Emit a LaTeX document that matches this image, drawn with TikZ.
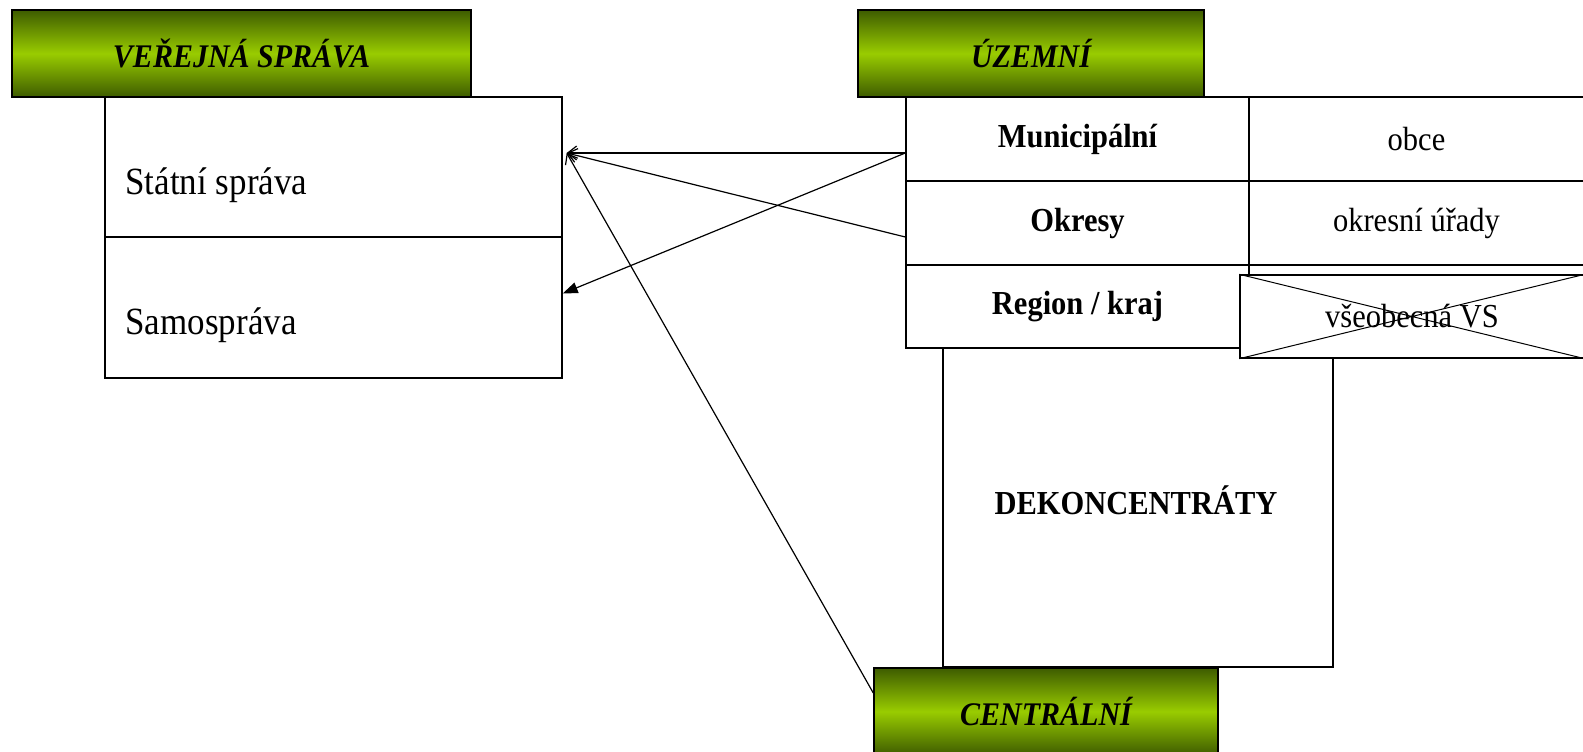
\documentclass[tikz,border=0pt]{standalone}
\usepackage{fontspec}
\setmainfont{Liberation Serif}
\usetikzlibrary{arrows.meta}
\definecolor{hdark}{RGB}{62,92,0}
\definecolor{hlight}{RGB}{153,204,0}
\newcommand{\tallt}[1]{\scalebox{1}[1.1]{#1}}
\tikzset{
  cell/.style={draw, line width=1.4pt, inner sep=0pt, fill=white, font=\fontsize{30.5}{36}\selectfont},
  boldcell/.style={cell, font=\fontsize{30.5}{36}\selectfont\bfseries},
  header/.style={draw, line width=1.4pt, inner sep=0pt, top color=hdark, bottom color=hdark, middle color=hlight, font=\fontsize{30}{36}\selectfont\bfseries\itshape},
  bigtext/.style={anchor=base west, inner sep=0pt, font=\fontsize{35}{42}\selectfont},
  link/.style={line width=1.2pt, -{Straight Barb[length=9pt,width=14pt]}},
  filledlink/.style={line width=1.2pt, -{Triangle[length=15pt,width=11pt]}}
}
\begin{document}
\begin{tikzpicture}[x=1pt,y=-1pt]
    \useasboundingbox (0,0) rectangle (1583,752);
    %Left side
    \node[header, minimum width=459pt, minimum height=87pt] (verejna) at (241.5,53.5) {\tallt{VEŘEJNÁ SPRÁVA}};
    \node[cell, minimum width=457pt, minimum height=140pt] (statni) at (333.5,167) {};
    \node[cell, minimum width=457pt, minimum height=141pt] (samo) at (333.5,307.5) {};
    \node[bigtext] (statnitxt) at ([xshift=21pt,yshift=-27pt]statni.west) {\tallt{Státní správa}};
    \node[bigtext] (samotxt) at ([xshift=21pt,yshift=-27pt]samo.west) {\tallt{Samospráva}};
    %Right side
    \node[header, minimum width=346pt, minimum height=87pt] (uzemni) at (1031,53.5) {\tallt{ÚZEMNÍ}};
    \node[cell, minimum width=390pt, minimum height=319pt] (dek) at (1138,507.5) {};
    \node[boldcell, minimum width=343pt, minimum height=84pt] (muni) at (1077.5,139) {\tallt{Municipální}};
    \node[cell, minimum width=335pt, minimum height=84pt] (obce) at (1416.5,139) {\tallt{obce}};
    \node[boldcell, minimum width=343pt, minimum height=84pt] (okresy) at (1077.5,223) {\tallt{Okresy}};
    \node[cell, minimum width=335pt, minimum height=84pt] (urady) at (1416.5,223) {\tallt{okresní úřady}};
    \node[boldcell, minimum width=343pt, minimum height=83pt] (region) at (1077.5,306.5) {\tallt{Region / kraj}};
    \node[cell, minimum width=344pt, minimum height=83pt] (vseob) at (1412,316.5) {\tallt{všeobecná VS}};
    \draw[line width=1pt] (vseob.north west) -- (vseob.south east) (vseob.south west) -- (vseob.north east);
    \node[font=\fontsize{30.5}{36}\selectfont\bfseries] (dektxt) at (1136,500) {\tallt{DEKONCENTRÁTY}};
    \node[header, minimum width=344pt, minimum height=87pt] (centr) at (1046,711.5) {\tallt{CENTRÁLNÍ}};
    %Arrows
    \draw[link] ([yshift=-14pt]muni.west) -- ([xshift=4pt,yshift=14pt]statni.east);
    \draw[link] ([yshift=-14pt]okresy.west) -- ([xshift=4pt,yshift=14pt]statni.east);
    \draw[link] ([yshift=18.5pt]centr.west) -- ([xshift=4pt,yshift=14pt]statni.east);
    \draw[filledlink] ([yshift=-14pt]muni.west) -- ([yshift=14pt]samo.east);
\end{tikzpicture}
\end{document}
